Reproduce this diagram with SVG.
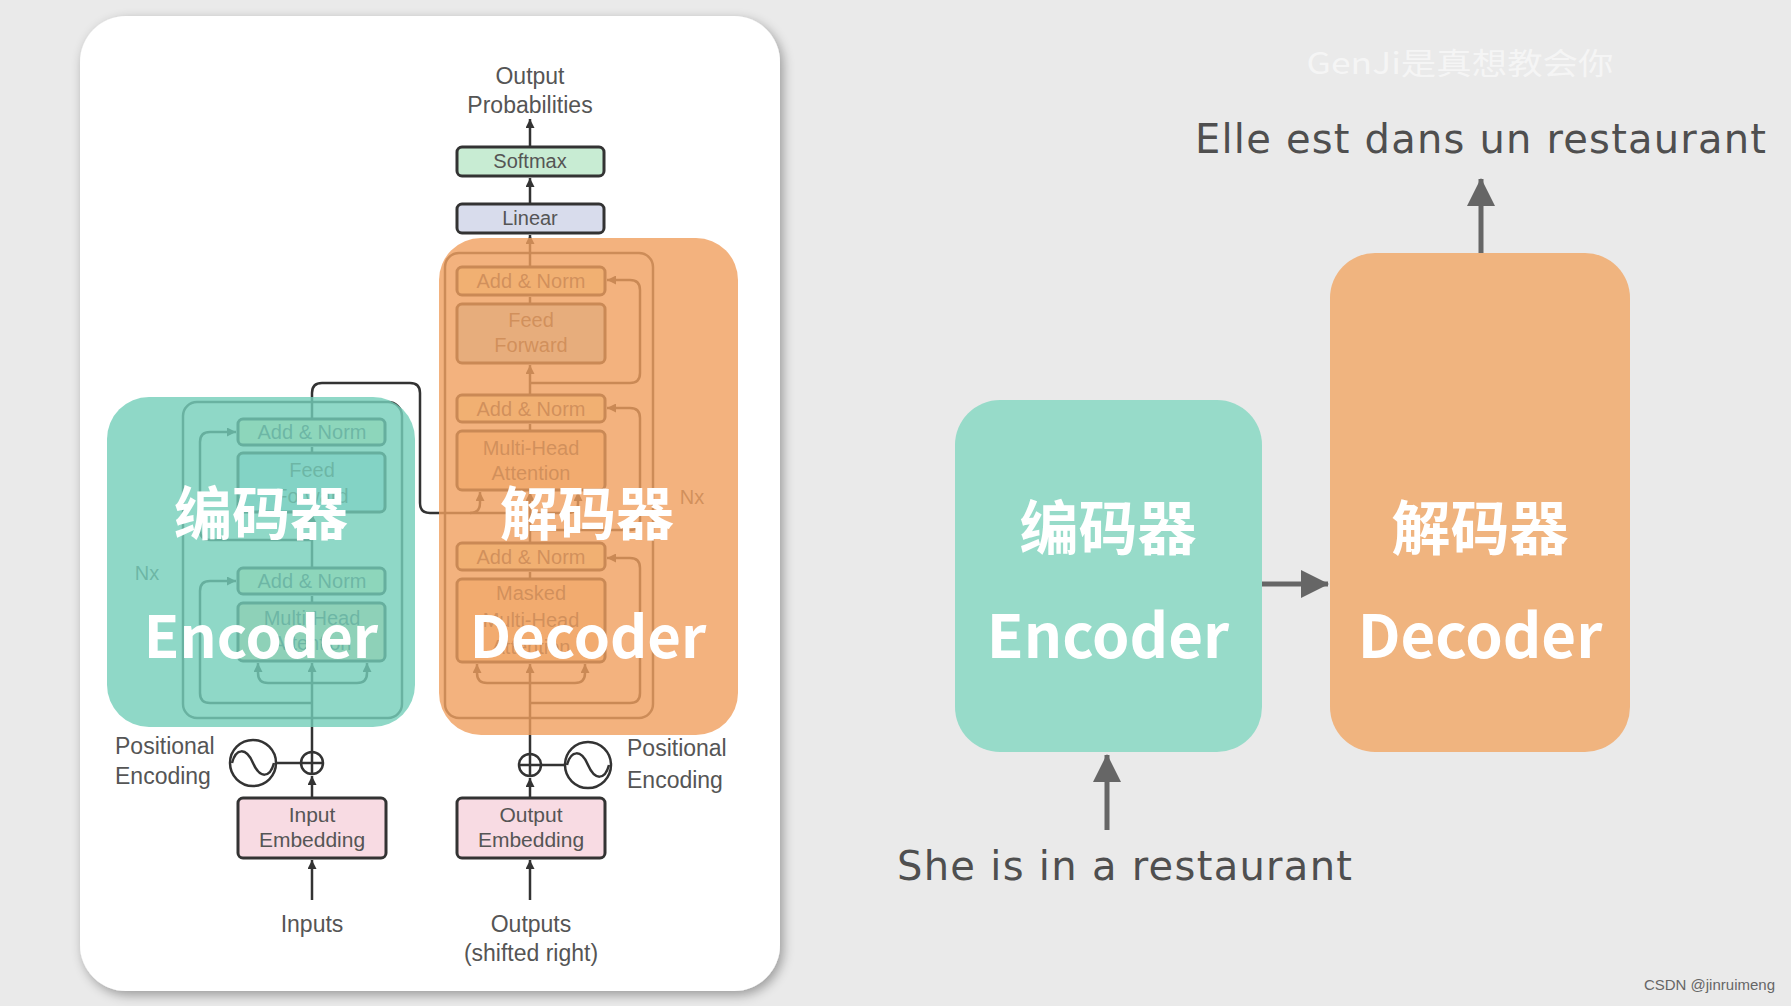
<svg xmlns="http://www.w3.org/2000/svg" width="1791" height="1006" viewBox="0 0 1791 1006">
<defs>
  <marker id="ah" markerUnits="userSpaceOnUse" markerWidth="9" markerHeight="9" viewBox="0 0 9 9" refX="9" refY="4.5" orient="auto">
    <path d="M0,0 L9,4.5 L0,9 z" fill="#333"/>
  </marker>
  <marker id="big" markerUnits="userSpaceOnUse" markerWidth="28" markerHeight="28" viewBox="0 0 28 28" refX="27" refY="14" orient="auto">
    <path d="M0,0 L28,14 L0,28 z" fill="#666"/>
  </marker>
  <filter id="shadow" x="-10%" y="-10%" width="120%" height="120%">
    <feGaussianBlur in="SourceAlpha" stdDeviation="6"/>
    <feOffset dx="3" dy="4" result="b"/>
    <feComponentTransfer><feFuncA type="linear" slope="0.35"/></feComponentTransfer>
    <feMerge><feMergeNode/><feMergeNode in="SourceGraphic"/></feMerge>
  </filter>
  <style>
    .lbl{font-family:"Liberation Sans",Arial,sans-serif;fill:#555;text-anchor:middle}
    .s20{font-size:20px}
    .s21{font-size:21px}
    .s23{font-size:23px}
    .ln{fill:none;stroke:#333;stroke-width:2.5}
    .box{stroke:#333;stroke-width:3}
    .nx{fill:none;stroke:#444;stroke-width:2.5}
    .an{fill:#f4f4c4}
    .ff{fill:#c4e6f6}
    .mha{fill:#fbdcb4}
    .big{font-family:"Noto Sans CJK SC","Noto Sans",sans-serif;font-weight:bold;fill:#ffffff;text-anchor:middle}
    .hand{font-family:"DejaVu Sans","Noto Sans",sans-serif;fill:#4f4f4f}
    .rarr{fill:none;stroke:#666;stroke-width:5}
  </style>
</defs>

<rect x="0" y="0" width="1791" height="1006" fill="#eaeaea"/>

<!-- white card -->
<rect x="80" y="16" width="700" height="975" rx="46" fill="#ffffff" filter="url(#shadow)"/>

<!-- ============ LEFT: transformer diagram ============ -->
<g id="left-diagram">
  <text class="lbl s23" x="530" y="84">Output</text>
  <text class="lbl s23" x="530" y="113">Probabilities</text>

  <g id="softmax">
    <rect class="box" x="457" y="147" width="147" height="29" rx="5" fill="#c8ecd3"/>
    <text class="lbl s20" x="530" y="168">Softmax</text>
  </g>
  <g id="linear">
    <rect class="box" x="457" y="204" width="147" height="29" rx="5" fill="#d8dcec"/>
    <text class="lbl s20" x="530" y="225">Linear</text>
  </g>

  <g id="decoder-stack">
    <rect class="nx" x="445" y="253" width="208" height="465" rx="14"/>
    <rect class="box an" x="457" y="267" width="148" height="28" rx="5"/>
    <text class="lbl s20" x="531" y="288">Add &amp; Norm</text>
    <rect class="box ff" x="457" y="304" width="148" height="59" rx="5"/>
    <text class="lbl s20" x="531" y="327">Feed</text>
    <text class="lbl s20" x="531" y="352">Forward</text>
    <rect class="box an" x="457" y="395" width="148" height="27" rx="5"/>
    <text class="lbl s20" x="531" y="416">Add &amp; Norm</text>
    <rect class="box mha" x="457" y="431" width="148" height="59" rx="5"/>
    <text class="lbl s20" x="531" y="455">Multi-Head</text>
    <text class="lbl s20" x="531" y="480">Attention</text>
    <rect class="box an" x="457" y="543" width="148" height="27" rx="5"/>
    <text class="lbl s20" x="531" y="564">Add &amp; Norm</text>
    <rect class="box mha" x="457" y="579" width="148" height="83" rx="5"/>
    <text class="lbl s20" x="531" y="600">Masked</text>
    <text class="lbl s20" x="531" y="627">Multi-Head</text>
    <text class="lbl s20" x="531" y="654">Attention</text>
    <text class="lbl s20" x="692" y="504">Nx</text>
  </g>

  <g id="encoder-stack">
    <rect class="nx" x="183" y="402" width="219" height="316" rx="14"/>
    <rect class="box an" x="238" y="419" width="147" height="26" rx="5"/>
    <text class="lbl s20" x="312" y="439">Add &amp; Norm</text>
    <rect class="box ff" x="238" y="453" width="147" height="59" rx="5"/>
    <text class="lbl s20" x="312" y="477">Feed</text>
    <text class="lbl s20" x="312" y="503">Forward</text>
    <rect class="box an" x="238" y="568" width="147" height="26" rx="5"/>
    <text class="lbl s20" x="312" y="588">Add &amp; Norm</text>
    <rect class="box mha" x="238" y="603" width="147" height="58" rx="5"/>
    <text class="lbl s20" x="312" y="625">Multi-Head</text>
    <text class="lbl s20" x="312" y="650">Attention</text>
    <text class="lbl s20" x="147" y="580">Nx</text>
  </g>

  <g id="input-embedding">
    <rect class="box" x="238" y="798" width="148" height="60" rx="5" fill="#f8dbe3"/>
    <text class="lbl s21" x="312" y="822">Input</text>
    <text class="lbl s21" x="312" y="847">Embedding</text>
  </g>
  <g id="output-embedding">
    <rect class="box" x="457" y="798" width="148" height="60" rx="5" fill="#f8dbe3"/>
    <text class="lbl s21" x="531" y="822">Output</text>
    <text class="lbl s21" x="531" y="847">Embedding</text>
  </g>

  <g id="enc-pos">
    <circle cx="312" cy="763" r="11" fill="#fff" stroke="#333" stroke-width="2.5"/>
    <path class="ln" d="M301,763 H323 M312,752 V774"/>
    <circle cx="253" cy="763" r="23" fill="#fff" stroke="#333" stroke-width="2.5"/>
    <path class="ln" d="M232,763 c4,-15 14,-16 21,0 s17,15 21,0"/>
    <path class="ln" d="M276,763 H301"/>
    <text class="lbl s23" x="115" y="754" style="text-anchor:start">Positional</text>
    <text class="lbl s23" x="115" y="784" style="text-anchor:start">Encoding</text>
  </g>
  <g id="dec-pos">
    <circle cx="530" cy="765" r="11" fill="#fff" stroke="#333" stroke-width="2.5"/>
    <path class="ln" d="M519,765 H541 M530,754 V776"/>
    <circle cx="588" cy="765" r="23" fill="#fff" stroke="#333" stroke-width="2.5"/>
    <path class="ln" d="M567,765 c4,-15 14,-16 21,0 s17,15 21,0"/>
    <path class="ln" d="M541,765 H565"/>
    <text class="lbl s23" x="627" y="756" style="text-anchor:start">Positional</text>
    <text class="lbl s23" x="627" y="788" style="text-anchor:start">Encoding</text>
  </g>

  <text class="lbl s23" x="312" y="932">Inputs</text>
  <text class="lbl s23" x="531" y="932">Outputs</text>
  <text class="lbl s23" x="531" y="961">(shifted right)</text>

  <g id="left-connectors">
    <path class="ln" d="M312,900 V860" marker-end="url(#ah)"/>
    <path class="ln" d="M312,798 V776" marker-end="url(#ah)"/>
    <path class="ln" d="M312,752 V663" marker-end="url(#ah)"/>
    <path class="ln" d="M312,683 H268 Q258,683 258,673 V663" marker-end="url(#ah)"/>
    <path class="ln" d="M312,683 H357 Q367,683 367,673 V663" marker-end="url(#ah)"/>
    <path class="ln" d="M312,603 V596"/>
    <path class="ln" d="M312,568 V514" marker-end="url(#ah)"/>
    <path class="ln" d="M312,453 V447"/>
    <path class="ln" d="M312,703 H210 Q200,703 200,693 V591 Q200,581 210,581 H236" marker-end="url(#ah)"/>
    <path class="ln" d="M312,540 H210 Q200,540 200,530 V442 Q200,432 210,432 H236" marker-end="url(#ah)"/>
    <path class="ln" d="M312,419 V393 Q312,383 322,383 H410 Q420,383 420,393 V503 Q420,513 430,513 H470 Q480,513 480,503 V492" marker-end="url(#ah)"/>
    <path class="ln" d="M470,513 H520"/>

    <path class="ln" d="M530,900 V860" marker-end="url(#ah)"/>
    <path class="ln" d="M530,798 V778" marker-end="url(#ah)"/>
    <path class="ln" d="M530,754 V664" marker-end="url(#ah)"/>
    <path class="ln" d="M530,683 H487 Q477,683 477,673 V664" marker-end="url(#ah)"/>
    <path class="ln" d="M530,683 H575 Q585,683 585,673 V664" marker-end="url(#ah)"/>
    <path class="ln" d="M530,579 V572"/>
    <path class="ln" d="M530,543 V492" marker-end="url(#ah)"/>
    <path class="ln" d="M530,513 H568 Q578,513 578,503 V492" marker-end="url(#ah)"/>
    <path class="ln" d="M530,431 V424"/>
    <path class="ln" d="M530,395 V365" marker-end="url(#ah)"/>
    <path class="ln" d="M530,304 V297"/>
    <path class="ln" d="M530,267 V235" marker-end="url(#ah)"/>
    <path class="ln" d="M530,204 V178" marker-end="url(#ah)"/>
    <path class="ln" d="M530,147 V119" marker-end="url(#ah)"/>
    <path class="ln" d="M530,703 H630 Q640,703 640,693 V568 Q640,558 630,558 H607" marker-end="url(#ah)"/>
    <path class="ln" d="M530,530 H630 Q640,530 640,520 V418 Q640,408 630,408 H607" marker-end="url(#ah)"/>
    <path class="ln" d="M530,383 H630 Q640,383 640,373 V290 Q640,280 630,280 H607" marker-end="url(#ah)"/>
  </g>
</g>

<g id="left-encoder-overlay">
  <rect x="107" y="397" width="308" height="330" rx="42" fill="#73ceb9" fill-opacity="0.8"/>
  <text class="big" x="261" y="535" font-size="58">编码器</text>
  <text class="big" x="261" y="658" font-size="58">Encoder</text>
</g>
<g id="left-decoder-overlay">
  <rect x="439" y="238" width="299" height="497" rx="42" fill="#f09f5e" fill-opacity="0.8"/>
  <text class="big" x="587" y="535" font-size="58">解码器</text>
  <text class="big" x="588" y="658" font-size="58">Decoder</text>
</g>

<text x="1460" y="74" font-family="Noto Sans CJK SC, sans-serif" font-size="30" fill="#ffffff" fill-opacity="0.55" text-anchor="middle" textLength="307" lengthAdjust="spacingAndGlyphs">GenJi是真想教会你</text>

<g id="encoder">
  <rect x="955" y="400" width="307" height="352" rx="45" fill="#97dbc9"/>
  <text class="big" x="1108" y="550" font-size="59">编码器</text>
  <text class="big" x="1108" y="658" font-size="60">Encoder</text>
</g>
<g id="decoder">
  <rect x="1330" y="253" width="300" height="499" rx="45" fill="#f0b47f"/>
  <text class="big" x="1480" y="550" font-size="59">解码器</text>
  <text class="big" x="1480" y="658" font-size="60">Decoder</text>
</g>

<g id="output-text">
  <text class="hand" x="1195" y="153" font-size="40" textLength="571">Elle est dans un restaurant</text>
</g>
<g id="input-text">
  <text class="hand" x="897" y="880" font-size="40" textLength="455">She is in a restaurant</text>
</g>

<g id="connectors">
  <path class="rarr" d="M1481,253 V179" marker-end="url(#big)"/>
  <path class="rarr" d="M1262,584 H1328" marker-end="url(#big)"/>
  <path class="rarr" d="M1107,830 V755" marker-end="url(#big)"/>
</g>

<text x="1775" y="990" font-family="Liberation Sans, Arial, sans-serif" font-size="15" fill="#666" text-anchor="end">CSDN @jinruimeng</text>
</svg>
